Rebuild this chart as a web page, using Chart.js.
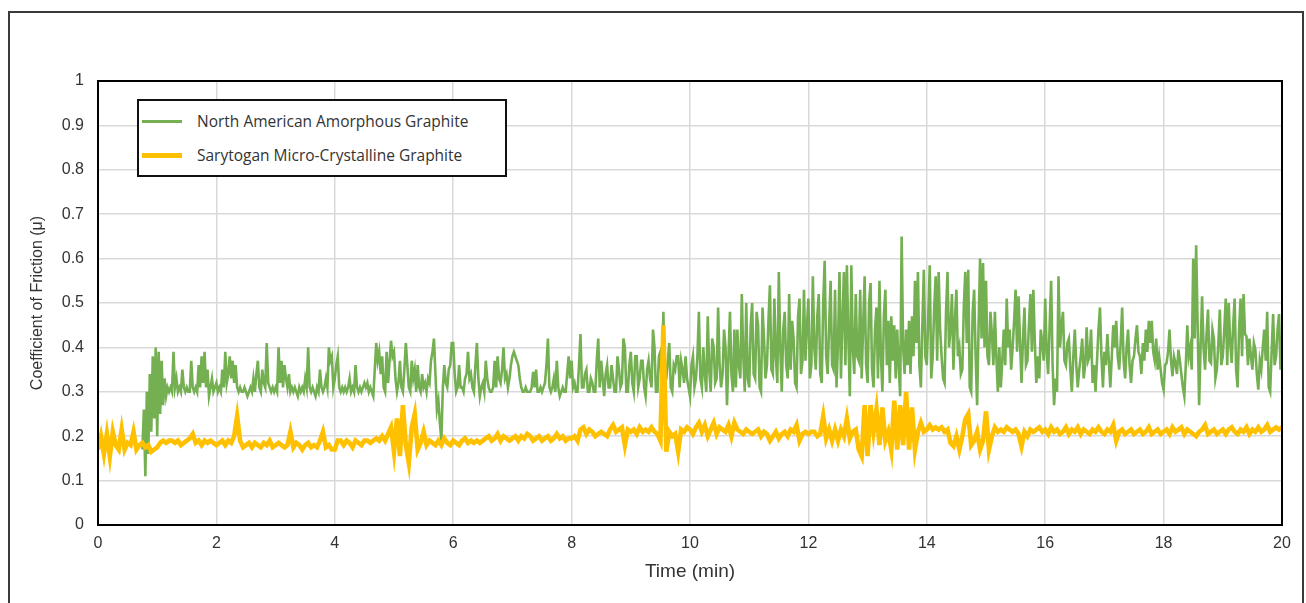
<!DOCTYPE html>
<html>
<head>
<meta charset="utf-8">
<script src="https://cdn.jsdelivr.net/npm/chart.js@4.4.1/dist/chart.umd.min.js"></script>
<style>
  html, body { margin: 0; padding: 0; background: #ffffff; }
  #wrap { position: relative; width: 1306px; height: 603px; overflow: hidden; }
  #c { position: absolute; left: 0; top: 0; }
  #frame { position: absolute; left: 8px; top: 11px; width: 1292px; height: 640px; border: 2px solid #3a3a3a; pointer-events: none; }
  #legend { position: absolute; left: 137px; top: 99px; width: 366px; height: 74px; border: 2px solid #111; background: #fff;
            font-family: 'Open Sans', sans-serif; font-size: 15.5px; color: #333; }
  .item { position: absolute; left: 0; width: 100%; height: 20px; }
  .swatch { position: absolute; left: 3px; width: 40px; }
  .lbl { position: absolute; left: 58px; top: 0; line-height: 20px; white-space: nowrap; }
</style>
</head>
<body>
<div id="wrap">
  <canvas id="c" width="1306" height="603"></canvas>
  <div id="legend"></div>
  <div id="frame"></div>
</div>
<script>
// ---------------- DATA ----------------
const seriesNames = ['North American Amorphous Graphite', 'Sarytogan Micro-Crystalline Graphite'];
const seriesColors = ['#74b052', '#ffc000'];

// North American Amorphous Graphite: one value every 0.025 min (one line per minute), 0 … 20 min
const NA_STEP_MIN = 0.025;
const naGraphite = [
  null,null,null,null,null,null,null,null,null,null,null,null,null,null,null,null,null,null,null,null,null,null,null,null,null,null,null,null,null,null,0.17,0.26,0.11,0.30,0.16,0.34,0.21,0.38,0.24,0.40,
  0.20,0.39,0.25,0.37,0.27,0.33,0.29,0.31,0.30,0.31,0.30,0.39,0.31,0.33,0.30,0.31,0.30,0.35,0.31,0.30,0.31,0.30,0.30,0.37,0.31,0.30,0.31,0.30,0.36,0.31,0.38,0.32,0.39,0.31,0.35,0.29,0.31,0.33,0.30,0.31,
  0.32,0.30,0.31,0.30,0.35,0.31,0.39,0.32,0.34,0.38,0.33,0.37,0.32,0.36,0.31,0.30,0.31,0.30,0.30,0.31,0.30,0.29,0.30,0.31,0.30,0.33,0.30,0.34,0.37,0.31,0.30,0.35,0.32,0.31,0.41,0.32,0.31,0.30,0.31,0.30,
  0.31,0.30,0.40,0.32,0.37,0.31,0.36,0.33,0.31,0.34,0.30,0.31,0.30,0.31,0.30,0.29,0.31,0.30,0.31,0.30,0.33,0.31,0.40,0.31,0.30,0.31,0.30,0.29,0.31,0.30,0.35,0.31,0.30,0.31,0.33,0.31,0.40,0.37,0.38,0.31,
  0.33,0.36,0.38,0.31,0.30,0.31,0.30,0.31,0.30,0.31,0.33,0.30,0.31,0.30,0.36,0.31,0.30,0.31,0.30,0.31,0.32,0.31,0.32,0.30,0.31,0.30,0.29,0.35,0.41,0.37,0.39,0.34,0.38,0.31,0.30,0.39,0.32,0.37,0.415,0.38,
  0.39,0.33,0.30,0.32,0.37,0.31,0.30,0.35,0.41,0.36,0.31,0.30,0.37,0.33,0.35,0.30,0.36,0.31,0.30,0.34,0.31,0.32,0.30,0.33,0.32,0.37,0.39,0.42,0.34,0.26,0.28,0.23,0.19,0.31,0.36,0.32,0.31,0.35,0.36,0.41,
  0.41,0.34,0.30,0.31,0.36,0.31,0.31,0.30,0.33,0.34,0.39,0.33,0.34,0.31,0.30,0.36,0.41,0.33,0.29,0.31,0.32,0.30,0.37,0.33,0.31,0.30,0.30,0.31,0.37,0.31,0.38,0.33,0.32,0.35,0.40,0.33,0.34,0.31,0.33,0.36,
  0.38,0.39,0.38,0.37,0.36,0.33,0.31,0.30,0.30,0.31,0.30,0.30,0.30,0.31,0.345,0.31,0.35,0.30,0.30,0.31,0.30,0.31,0.32,0.36,0.42,0.31,0.30,0.31,0.33,0.30,0.37,0.31,0.29,0.30,0.31,0.30,0.30,0.34,0.38,0.33,
  0.37,0.31,0.32,0.30,0.30,0.36,0.43,0.31,0.31,0.34,0.35,0.30,0.30,0.33,0.32,0.30,0.30,0.37,0.42,0.31,0.37,0.33,0.29,0.34,0.36,0.31,0.31,0.36,0.33,0.30,0.30,0.38,0.35,0.31,0.32,0.42,0.40,0.30,0.30,0.36,
  0.39,0.32,0.30,0.38,0.38,0.31,0.33,0.37,0.37,0.31,0.29,0.35,0.37,0.33,0.31,0.44,0.40,0.30,0.30,0.38,0.39,0.31,0.48,0.32,0.33,0.37,0.41,0.31,0.30,0.36,0.35,0.38,0.38,0.31,0.37,0.35,0.32,0.38,0.33,0.31,
  0.29,0.36,0.38,0.31,0.33,0.38,0.48,0.33,0.31,0.40,0.34,0.30,0.47,0.35,0.30,0.42,0.40,0.32,0.33,0.49,0.36,0.31,0.34,0.44,0.40,0.27,0.38,0.48,0.34,0.30,0.44,0.31,0.44,0.36,0.33,0.52,0.38,0.30,0.50,0.33,
  0.31,0.45,0.50,0.34,0.33,0.48,0.45,0.31,0.30,0.49,0.42,0.33,0.36,0.46,0.54,0.35,0.34,0.51,0.38,0.32,0.57,0.40,0.30,0.44,0.48,0.36,0.33,0.52,0.35,0.46,0.42,0.32,0.31,0.47,0.51,0.34,0.37,0.53,0.37,0.45,
  0.51,0.33,0.36,0.56,0.40,0.35,0.47,0.52,0.34,0.32,0.50,0.595,0.38,0.34,0.45,0.55,0.36,0.35,0.53,0.31,0.41,0.57,0.33,0.46,0.57,0.36,0.585,0.42,0.29,0.585,0.40,0.34,0.52,0.38,0.37,0.53,0.33,0.45,0.56,0.36,
  0.32,0.50,0.545,0.35,0.31,0.44,0.49,0.33,0.55,0.38,0.30,0.47,0.53,0.36,0.46,0.32,0.47,0.37,0.45,0.33,0.44,0.36,0.29,0.65,0.40,0.34,0.44,0.36,0.46,0.34,0.47,0.38,0.55,0.41,0.57,0.36,0.31,0.45,0.575,0.38,
  0.36,0.47,0.585,0.33,0.38,0.49,0.56,0.37,0.57,0.44,0.38,0.33,0.32,0.48,0.57,0.40,0.44,0.52,0.35,0.46,0.53,0.38,0.40,0.34,0.35,0.49,0.57,0.41,0.575,0.31,0.30,0.48,0.53,0.38,0.27,0.45,0.60,0.42,0.59,0.40,
  0.55,0.38,0.36,0.48,0.43,0.36,0.48,0.38,0.30,0.40,0.31,0.37,0.44,0.36,0.51,0.40,0.44,0.35,0.40,0.46,0.53,0.39,0.515,0.41,0.32,0.42,0.49,0.36,0.37,0.45,0.52,0.39,0.53,0.41,0.32,0.38,0.33,0.44,0.41,0.37,
  0.51,0.39,0.34,0.45,0.55,0.36,0.27,0.33,0.30,0.56,0.40,0.45,0.48,0.37,0.36,0.41,0.42,0.35,0.30,0.38,0.44,0.36,0.31,0.35,0.38,0.42,0.33,0.36,0.445,0.37,0.38,0.44,0.32,0.36,0.30,0.37,0.44,0.49,0.38,0.31,
  0.39,0.36,0.43,0.37,0.31,0.38,0.45,0.40,0.46,0.38,0.35,0.41,0.49,0.37,0.33,0.40,0.44,0.36,0.32,0.37,0.38,0.42,0.45,0.39,0.38,0.34,0.41,0.37,0.44,0.39,0.46,0.41,0.46,0.39,0.37,0.42,0.35,0.38,0.35,0.32,
  0.305,0.36,0.365,0.39,0.44,0.37,0.335,0.38,0.365,0.34,0.395,0.37,0.34,0.31,0.29,0.36,0.45,0.38,0.40,0.35,0.60,0.42,0.63,0.45,0.27,0.40,0.515,0.40,0.35,0.43,0.485,0.37,0.365,0.44,0.42,0.33,0.35,0.41,0.485,0.36,
  0.38,0.44,0.51,0.36,0.50,0.41,0.365,0.45,0.51,0.35,0.31,0.44,0.51,0.38,0.52,0.43,0.425,0.36,0.42,0.38,0.35,0.41,0.395,0.34,0.305,0.37,0.35,0.40,0.44,0.37,0.48,0.31,0.30,0.39,0.475,0.36,0.38,0.44,0.475,0.35,
  0.42
];

// Sarytogan Micro-Crystalline Graphite: one value every 0.05 min (one line per minute), 0 … 20 min
const SG_STEP_MIN = 0.05;
const sarytogan = [
  0.17,0.20,0.16,0.205,0.155,0.21,0.18,0.17,0.215,0.17,0.185,0.18,0.21,0.17,0.18,0.185,0.175,0.18,0.165,0.17,
  0.175,0.185,0.19,0.185,0.19,0.19,0.185,0.19,0.18,0.185,0.19,0.195,0.205,0.185,0.19,0.18,0.19,0.185,0.19,0.185,
  0.18,0.185,0.19,0.18,0.19,0.185,0.20,0.245,0.19,0.175,0.18,0.185,0.175,0.185,0.18,0.175,0.185,0.18,0.19,0.175,
  0.18,0.185,0.18,0.175,0.18,0.21,0.175,0.185,0.18,0.17,0.18,0.185,0.175,0.18,0.175,0.19,0.21,0.175,0.18,0.17,
  0.17,0.19,0.19,0.18,0.19,0.185,0.175,0.19,0.185,0.18,0.19,0.19,0.185,0.19,0.195,0.19,0.20,0.19,0.205,0.22,
  0.165,0.24,0.155,0.27,0.18,0.14,0.22,0.25,0.17,0.185,0.21,0.18,0.19,0.185,0.18,0.19,0.18,0.195,0.185,0.18,
  0.19,0.185,0.18,0.19,0.195,0.185,0.19,0.185,0.19,0.185,0.19,0.195,0.20,0.19,0.195,0.205,0.19,0.20,0.195,0.19,
  0.195,0.20,0.19,0.20,0.195,0.205,0.20,0.19,0.195,0.20,0.19,0.195,0.20,0.19,0.195,0.205,0.195,0.20,0.19,0.195,
  0.195,0.20,0.19,0.215,0.22,0.205,0.215,0.21,0.20,0.205,0.21,0.205,0.20,0.215,0.225,0.21,0.215,0.22,0.18,0.215,
  0.21,0.215,0.205,0.22,0.21,0.215,0.21,0.22,0.21,0.205,0.19,0.45,0.165,0.21,0.20,0.205,0.165,0.215,0.21,0.22,
  0.215,0.205,0.22,0.23,0.21,0.225,0.20,0.215,0.23,0.205,0.22,0.215,0.21,0.225,0.20,0.23,0.215,0.21,0.205,0.215,
  0.21,0.205,0.21,0.215,0.20,0.21,0.205,0.19,0.20,0.21,0.195,0.205,0.21,0.20,0.215,0.21,0.225,0.19,0.205,0.21,
  0.205,0.21,0.21,0.20,0.205,0.245,0.195,0.215,0.19,0.215,0.19,0.215,0.20,0.24,0.195,0.21,0.215,0.17,0.155,0.27,
  0.155,0.27,0.21,0.26,0.18,0.265,0.19,0.21,0.17,0.28,0.17,0.27,0.18,0.30,0.17,0.265,0.17,0.21,0.23,0.21,
  0.215,0.225,0.215,0.22,0.215,0.22,0.21,0.215,0.185,0.178,0.20,0.17,0.20,0.238,0.25,0.18,0.19,0.21,0.17,0.19,
  0.256,0.17,0.20,0.22,0.21,0.215,0.21,0.22,0.215,0.21,0.215,0.205,0.177,0.21,0.20,0.215,0.21,0.215,0.22,0.21,
  0.215,0.205,0.22,0.21,0.215,0.205,0.21,0.22,0.205,0.215,0.21,0.22,0.205,0.215,0.21,0.205,0.215,0.21,0.22,0.21,
  0.205,0.215,0.21,0.225,0.19,0.21,0.215,0.205,0.21,0.215,0.205,0.21,0.215,0.205,0.21,0.22,0.205,0.21,0.215,0.205,
  0.21,0.215,0.205,0.22,0.21,0.215,0.22,0.205,0.215,0.21,0.205,0.20,0.21,0.215,0.225,0.205,0.21,0.215,0.205,0.21,
  0.215,0.205,0.215,0.22,0.21,0.205,0.215,0.21,0.22,0.205,0.215,0.21,0.22,0.21,0.215,0.225,0.21,0.215,0.22,0.215,
  0.22
];

const xTickLabels = ['0','2','4','6','8','10','12','14','16','18','20'];
const yTickLabels = ['0','0.1','0.2','0.3','0.4','0.5','0.6','0.7','0.8','0.9','1'];
const xAxisTitle = 'Time (min)';
const yAxisTitle = 'Coefficient of Friction (\u03bc)';

// pair each value with its sample time (index x sampling interval)
const toPoints = (vals, step) => vals.map((y, i) => ({ x: Math.round(i * step * 1000) / 1000, y }));

// ---------------- CHART ----------------
const TEXT = '#333333';
const GRID = '#d9d9d9';
const FONT = "'Liberation Sans', Arial, sans-serif";

const areaBorder = {
  id: 'areaBorder',
  afterDatasetsDraw(chart) {
    const { ctx, chartArea: a } = chart;
    ctx.save();
    ctx.strokeStyle = '#000';
    ctx.lineWidth = 2;
    ctx.strokeRect(a.left, a.top, a.right - a.left, a.bottom - a.top);
    ctx.restore();
  }
};

const chart = new Chart(document.getElementById('c'), {
  type: 'line',
  data: {
    datasets: [
      { label: seriesNames[0], data: toPoints(naGraphite, NA_STEP_MIN), borderColor: seriesColors[0], backgroundColor: seriesColors[0],
        borderWidth: 2.6, pointRadius: 0, tension: 0, spanGaps: false, order: 2, legendWidth: 3 },
      { label: seriesNames[1], data: toPoints(sarytogan, SG_STEP_MIN), borderColor: seriesColors[1], backgroundColor: seriesColors[1],
        borderWidth: 4.6, pointRadius: 0, tension: 0, order: 1, legendWidth: 5 }
    ]
  },
  options: {
    responsive: false,
    devicePixelRatio: 1,
    animation: false,
    events: [],
    layout: { padding: { top: 81, right: 24, bottom: 0, left: 0 } },
    plugins: { legend: { display: false }, tooltip: { enabled: false } },
    scales: {
      x: {
        type: 'linear', min: 0, max: 20,
        afterFit(s) { s.height = 78; },
        grid: { color: GRID, lineWidth: 1.5, drawTicks: false },
        border: { display: true, color: '#000', width: 2 },
        ticks: { stepSize: 2, padding: 9, maxRotation: 0, color: TEXT, font: { family: FONT, size: 16 },
                 callback: (v) => xTickLabels[Math.round(v / 2)] },
        title: { display: true, text: xAxisTitle, color: TEXT, font: { family: FONT, size: 19 },
                 padding: { top: 0, bottom: 20 } }
      },
      y: {
        type: 'linear', min: 0, max: 1,
        afterFit(s) { s.width = 98; },
        grid: { color: GRID, lineWidth: 1.5, drawTicks: false },
        border: { display: true, color: '#000', width: 2 },
        ticks: { stepSize: 0.1, padding: 14, color: TEXT, font: { family: FONT, size: 16 },
                 callback: (v) => yTickLabels[Math.round(v * 10)] },
        title: { display: true, text: yAxisTitle, color: TEXT, font: { family: FONT, size: 16 },
                 padding: { top: 28, bottom: 0 } }
      }
    }
  },
  plugins: [areaBorder]
});

// ---------------- LEGEND (built from the chart's datasets) ----------------
const legendEl = document.getElementById('legend');
const rowCenters = [20, 54];
chart.data.datasets.forEach((ds, i) => {
  const item = document.createElement('div');
  item.className = 'item';
  item.style.top = (rowCenters[i] - 10) + 'px';
  const sw = document.createElement('div');
  sw.className = 'swatch';
  sw.style.height = ds.legendWidth + 'px';
  sw.style.top = (10 - ds.legendWidth / 2) + 'px';
  sw.style.background = ds.borderColor;
  const lbl = document.createElement('span');
  lbl.className = 'lbl';
  lbl.textContent = ds.label;
  item.appendChild(sw);
  item.appendChild(lbl);
  legendEl.appendChild(item);
});
</script>
</body>
</html>
